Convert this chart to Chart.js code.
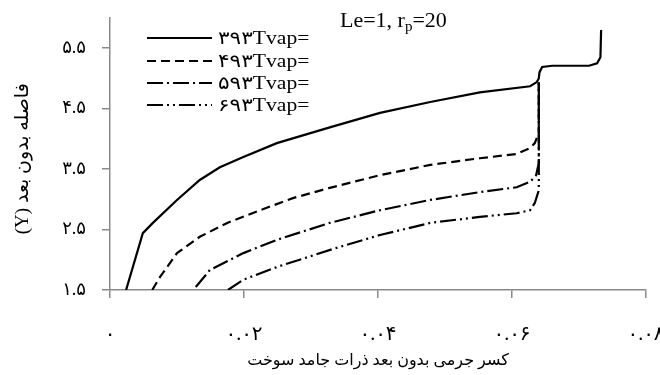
<!DOCTYPE html>
<html>
<head>
<meta charset="utf-8">
<script src="https://cdn.jsdelivr.net/npm/chart.js@4"></script>
<style>
  body { margin: 0; background: #fff; }
  #wrap { width: 660px; height: 375px; }
</style>
</head>
<body>
<div id="wrap"><canvas id="chart" width="660" height="375"></canvas></div>
<script>
// داده‌ها
const seriesLabels = ["۳۹۳Tvap=", "۴۹۳Tvap=", "۵۹۳Tvap=", "۶۹۳Tvap="];

const x393 = [0.0024, 0.0049, 0.0064, 0.0100, 0.0134, 0.0164, 0.0199, 0.0249, 0.0328, 0.0403, 0.0478, 0.0552, 0.0627, 0.0637, 0.0640, 0.0641, 0.0645, 0.0660, 0.0715, 0.0727, 0.0732, 0.0733];
const y393 = [1.5, 2.44, 2.61, 2.99, 3.32, 3.53, 3.70, 3.93, 4.19, 4.43, 4.61, 4.77, 4.87, 4.94, 5.00, 5.10, 5.19, 5.21, 5.21, 5.25, 5.35, 5.80];

const x493 = [0.0063, 0.0075, 0.0100, 0.0134, 0.0175, 0.0224, 0.0273, 0.0328, 0.0403, 0.0478, 0.0552, 0.0607, 0.0627, 0.0634, 0.0640, 0.0640];
const y493 = [1.5, 1.72, 2.11, 2.38, 2.61, 2.82, 3.02, 3.19, 3.40, 3.57, 3.68, 3.75, 3.85, 3.93, 4.10, 4.94];

const x593 = [0.0128, 0.0149, 0.0199, 0.0249, 0.0328, 0.0403, 0.0478, 0.0552, 0.0607, 0.0627, 0.0636, 0.0640, 0.0640];
const y593 = [1.55, 1.83, 2.11, 2.33, 2.61, 2.82, 2.99, 3.12, 3.20, 3.29, 3.40, 3.60, 4.94];

const x693 = [0.0176, 0.0199, 0.0249, 0.0336, 0.0403, 0.0478, 0.0552, 0.0607, 0.0627, 0.0634, 0.0640, 0.0640];
const y693 = [1.5, 1.67, 1.88, 2.19, 2.41, 2.61, 2.71, 2.77, 2.82, 2.94, 3.15, 4.94];

const xTicks = [0, 0.02, 0.04, 0.06, 0.08];
const xTickLabels = ["۰", "۰.۰۲", "۰.۰۴", "۰.۰۶", "۰.۰۸"];
const yTicks = [1.5, 2.5, 3.5, 4.5, 5.5];
const yTickLabels = ["۱.۵", "۲.۵", "۳.۵", "۴.۵", "۵.۵"];

const axisColor = "#8a8a8a";
const serif = "'Liberation Serif', 'Times New Roman', 'DejaVu Sans', serif";

function toPoints(xs, ys) {
    return xs.map((x, i) => ({ x: x, y: ys[i] }));
}

const dashes = [[], [9, 5], [16, 4, 2, 4], [16, 4, 2, 4, 2, 4]];
const allX = [x393, x493, x593, x693];
const allY = [y393, y493, y593, y693];

const datasets = seriesLabels.map((label, i) => ({
    label: label,
    data: toPoints(allX[i], allY[i]),
    showLine: true,
    borderColor: "#000",
    borderWidth: 2.2,
    borderDash: dashes[i],
    pointRadius: 0,
    tension: 0,
    fill: false
}));

// عنوان بالای نمودار با زیرنویس
const titlePlugin = {
    id: "topTitle",
    afterDraw(chart) {
        const ctx = chart.ctx;
        ctx.save();
        ctx.fillStyle = "#000";
        ctx.textBaseline = "alphabetic";
        ctx.textAlign = "left";
        ctx.font = "22px " + serif;
        let x = 340, y = 27;
        const a = "Le=1, r";
        ctx.fillText(a, x, y);
        x += ctx.measureText(a).width;
        ctx.font = "15px " + serif;
        ctx.fillText("p", x, y + 4);
        x += ctx.measureText("p").width;
        ctx.font = "22px " + serif;
        ctx.fillText("=20", x, y);
        ctx.restore();
    }
};

// راهنمای داخل نمودار
const legendPlugin = {
    id: "innerLegend",
    afterDatasetsDraw(chart) {
        const ctx = chart.ctx;
        const rows = [38, 61, 83, 105];
        ctx.save();
        chart.data.datasets.forEach((ds, i) => {
            ctx.strokeStyle = ds.borderColor;
            ctx.lineWidth = ds.borderWidth;
            ctx.setLineDash(ds.borderDash);
            ctx.beginPath();
            ctx.moveTo(147, rows[i]);
            ctx.lineTo(212, rows[i]);
            ctx.stroke();
            ctx.setLineDash([]);
            ctx.save();
            ctx.translate(218, rows[i] + 1);
            ctx.scale(1.2, 1);
            ctx.fillStyle = "#000";
            ctx.font = "18px " + serif;
            ctx.textAlign = "left";
            ctx.textBaseline = "middle";
            ctx.fillText(ds.label, 0, 0);
            ctx.restore();
        });
        ctx.restore();
    }
};

new Chart(document.getElementById("chart"), {
    type: "scatter",
    data: { datasets: datasets },
    options: {
        responsive: false,
        animation: false,
        layout: { padding: { left: 0, right: 14, top: 18, bottom: 0 } },
        plugins: {
            legend: { display: false },
            tooltip: { enabled: false }
        },
        scales: {
            x: {
                type: "linear",
                min: 0,
                max: 0.08,
                afterBuildTicks: scale => { scale.ticks = xTicks.map(v => ({ value: v })); },
                afterFit: scale => { scale.height = 85; scale.paddingRight = 0; scale.paddingLeft = 0; },
                grid: { drawOnChartArea: false, drawTicks: true, tickLength: 8, color: axisColor, lineWidth: 1.5 },
                border: { color: axisColor, width: 1.5 },
                ticks: {
                    padding: 25,
                    maxRotation: 0,
                    autoSkip: false,
                    color: "#000",
                    font: { family: serif, size: 20 },
                    callback: (v, i) => xTickLabels[i]
                },
                title: {
                    display: true,
                    text: "کسر جرمی بدون بعد ذرات جامد سوخت",
                    color: "#000",
                    font: { family: serif, size: 16 },
                    padding: { top: 0, bottom: 5 }
                }
            },
            y: {
                type: "linear",
                min: 1.5,
                max: 6,
                afterBuildTicks: scale => { scale.ticks = yTicks.map(v => ({ value: v })); },
                afterFit: scale => { scale.width = 110; scale.paddingTop = 0; scale.paddingBottom = 0; },
                grid: { drawOnChartArea: false, drawTicks: true, tickLength: 8, color: axisColor, lineWidth: 1.5 },
                border: { color: axisColor, width: 1.5 },
                ticks: {
                    padding: 16,
                    autoSkip: false,
                    color: "#000",
                    font: { family: serif, size: 18 },
                    callback: (v, i) => yTickLabels[i]
                },
                title: {
                    display: true,
                    text: "(Y) فاصله بدون بعد\u00A0\u00A0",
                    color: "#000",
                    font: { family: serif, size: 19 },
                    padding: { top: 12, bottom: 0 }
                }
            }
        }
    },
    plugins: [titlePlugin, legendPlugin]
});
</script>
</body>
</html>
